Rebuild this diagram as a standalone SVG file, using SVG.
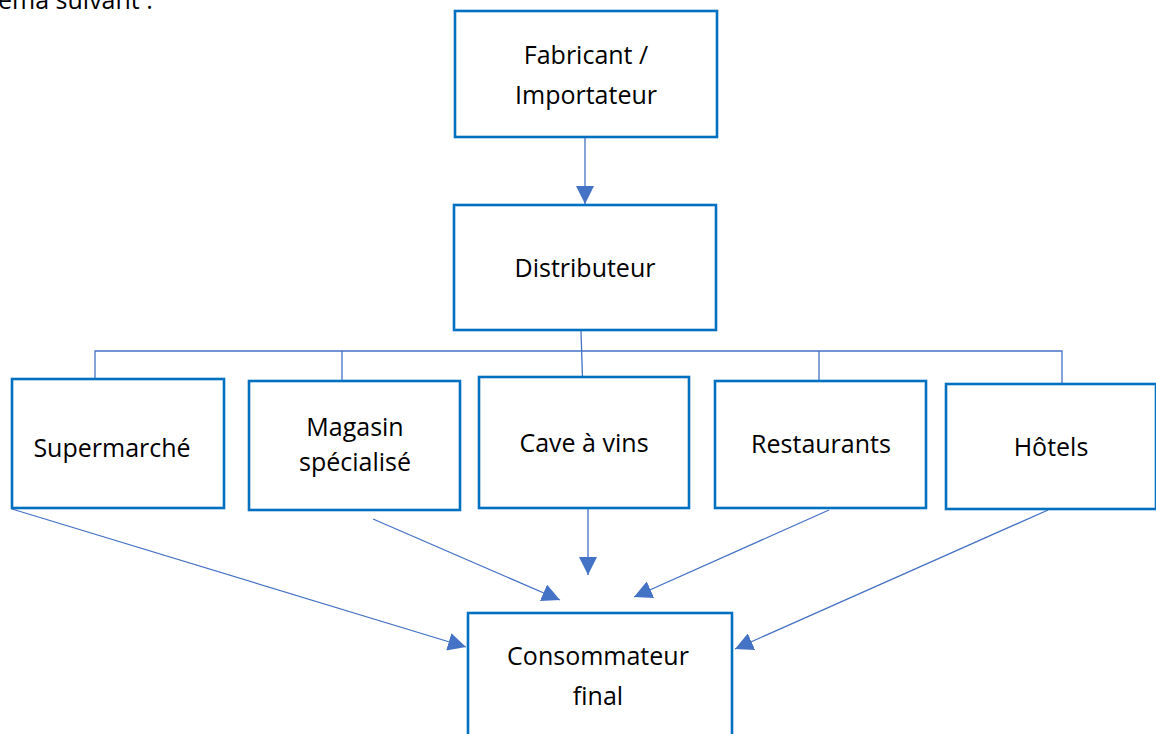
<svg xmlns="http://www.w3.org/2000/svg" width="1156" height="734" viewBox="0 0 1156 734">
<style>
.box{fill:#fff;stroke:#0070C0;stroke-width:2.6}
.t{font-family:"Open Sans","Noto Sans",sans-serif;font-size:25px;fill:#000;text-anchor:middle}
.c{fill:none;stroke:#4472C4;stroke-width:1.3}
</style>
<defs>
<marker id="ah" markerUnits="userSpaceOnUse" markerWidth="20" markerHeight="18" refX="18" refY="9" orient="auto">
<path d="M0,0 L18,9 L0,18 Z" fill="#4472C4"/>
</marker>
</defs>
<rect width="1156" height="734" fill="#fff"/>
<text class="t" x="-2" y="9" style="text-anchor:start">éma suivant :</text>
<g id="connectors">
<line class="c" x1="585" y1="138" x2="585" y2="204" marker-end="url(#ah)"/>
<polyline class="c" points="95,379 95,351 1062,351 1062,383"/>
<line class="c" x1="342" y1="351" x2="342" y2="380"/>
<line class="c" x1="581" y1="331" x2="582.5" y2="378"/>
<line class="c" x1="819" y1="351" x2="819" y2="381"/>
<line class="c" x1="12" y1="509" x2="466" y2="647" marker-end="url(#ah)"/>
<line class="c" x1="373" y1="519" x2="560" y2="600" marker-end="url(#ah)"/>
<line class="c" x1="588" y1="509" x2="588" y2="575" marker-end="url(#ah)"/>
<line class="c" x1="829" y1="510" x2="634" y2="597" marker-end="url(#ah)"/>
<line class="c" x1="1048" y1="510" x2="735" y2="649" marker-end="url(#ah)"/>
</g>
<g id="fabricant"><rect class="box" x="455" y="11" width="262" height="126"/><text class="t" x="586" y="64">Fabricant /</text><text class="t" x="586" y="104">Importateur</text></g>
<g id="distributeur"><rect class="box" x="454" y="205" width="262" height="125"/><text class="t" x="585" y="277">Distributeur</text></g>
<g id="supermarche"><rect class="box" x="12" y="379" width="212" height="129"/><text class="t" x="112" y="457">Supermarché</text></g>
<g id="magasin"><rect class="box" x="249" y="381" width="211" height="129"/><text class="t" x="355" y="436">Magasin</text><text class="t" x="355" y="471">spécialisé</text></g>
<g id="cave"><rect class="box" x="479" y="377" width="210" height="131"/><text class="t" x="584" y="452">Cave à vins</text></g>
<g id="restaurants"><rect class="box" x="715" y="381" width="211" height="127"/><text class="t" x="821" y="453">Restaurants</text></g>
<g id="hotels"><rect class="box" x="946" y="384" width="210" height="125"/><text class="t" x="1051" y="456">Hôtels</text></g>
<g id="consommateur"><rect class="box" x="468" y="613" width="264" height="130"/><text class="t" x="598" y="665">Consommateur</text><text class="t" x="598" y="705">final</text></g>
</svg>
